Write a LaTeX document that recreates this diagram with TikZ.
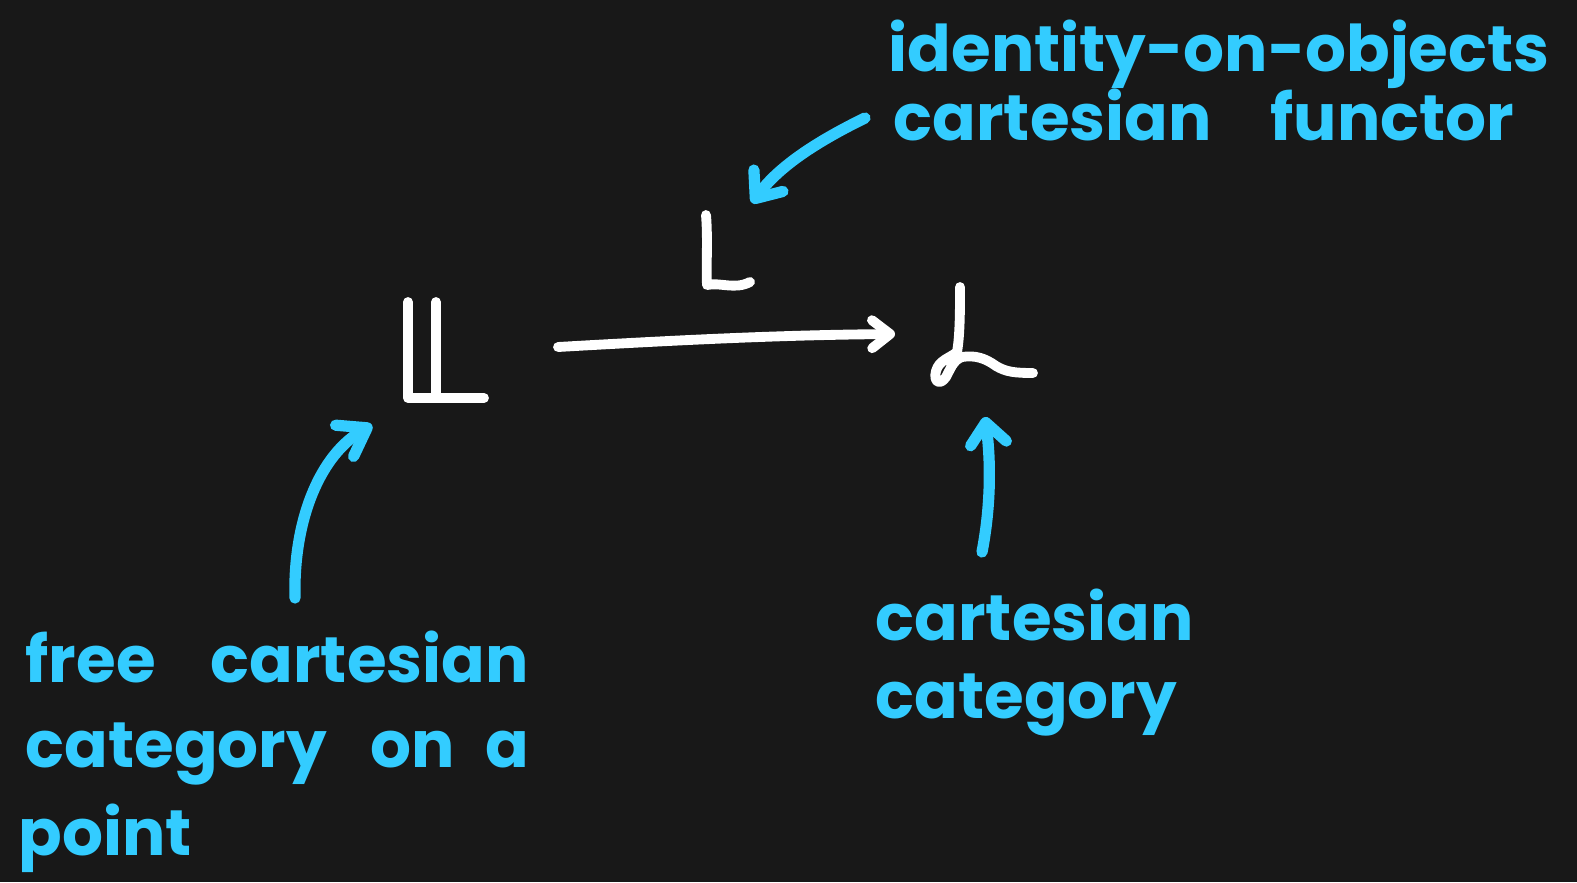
\documentclass[tikz,border=0pt]{standalone}
\usepackage{fontspec}
\setmainfont{Poppins}
\usetikzlibrary{arrows.meta}
\definecolor{bg}{HTML}{181818}
\definecolor{ink}{HTML}{33CCFF}
\begin{document}
\begin{tikzpicture}[x=0.01cm,y=-0.01cm,
  chalk/.style={white,line width=2.8pt,line cap=round,line join=round},
  pen/.style={ink,line width=3.2pt,line cap=round,line join=round},
  penhead/.style={-{Straight Barb[length=#1,width=3.6mm,round]}},
  word/.style={ink,anchor=base west,inner sep=0pt,font=\fontsize{18.3}{20}\selectfont\bfseries}]
\fill[bg] (0,0) rectangle (1577,882);
\useasboundingbox (0,0) rectangle (1577,882);

% double-struck L (free cartesian category)
\coordinate (LL) at (440,350);
\draw[chalk] (408,302) -- (408,398) -- (484,398);
\draw[chalk] (436,302) -- (436,396);

% label L above the functor arrow
\coordinate (Lf) at (725,250);
\draw[chalk] (706,215) .. controls (708,240) and (706,265) .. (707,285)
  .. controls (720,282) and (735,290) .. (750,282);

% script L (cartesian category)
\coordinate (Ls) at (975,335);
\draw[chalk] (960,287) .. controls (960,310) and (960,335) .. (957,352)
  .. controls (950,358) and (939,360) .. (936,371)
  .. controls (933,382) and (940,386) .. (946,377)
  .. controls (950,370) and (953,360) .. (962,357)
  .. controls (975,355) and (985,358) .. (996,366)
  .. controls (1006,372) and (1015,373) .. (1033,373);

% functor arrow
\coordinate (fs) at (558,347);
\coordinate (ft) at (895,334);
\draw[chalk,-{Straight Barb[length=1.8mm,width=2.8mm,round]}] (fs) .. controls (680,340) and (780,335) .. (ft);

% annotations
\node[word] (t1) at (888,72) {identity-on-objects};
\node[word] (t2) at (893,140) {cartesian};
\node[word] (t3) at (1270,140) {functor};
\node[word] (l1) at (25,682) {free};
\node[word] (l2) at (210,682) {cartesian};
\node[word] (l3) at (25,767) {category};
\node[word] (l4) at (370,767) {on};
\node[word] (l5) at (485,767) {a};
\node[word] (l6) at (18,855) {point};
\node[word] (r1) at (875,640) {cartesian};
\node[word] (r2) at (875,718) {category};

% pointers from the annotations to the symbols
\coordinate (a1s) at (865,118);
\coordinate (a1t) at (752,203);
\coordinate (a2s) at (295,598);
\coordinate (a2t) at (372,425);
\coordinate (a3s) at (982,552);
\coordinate (a3t) at (985,417);
\draw[pen,penhead=2.2mm] (a1s) .. controls (820,140) and (780,165) .. (a1t);
\draw[pen,penhead=2.6mm] (a2s) .. controls (293,520) and (320,455) .. (a2t);
\draw[pen,penhead=2.1mm] (a3s) .. controls (992,500) and (990,455) .. (a3t);
\end{tikzpicture}
\end{document}
